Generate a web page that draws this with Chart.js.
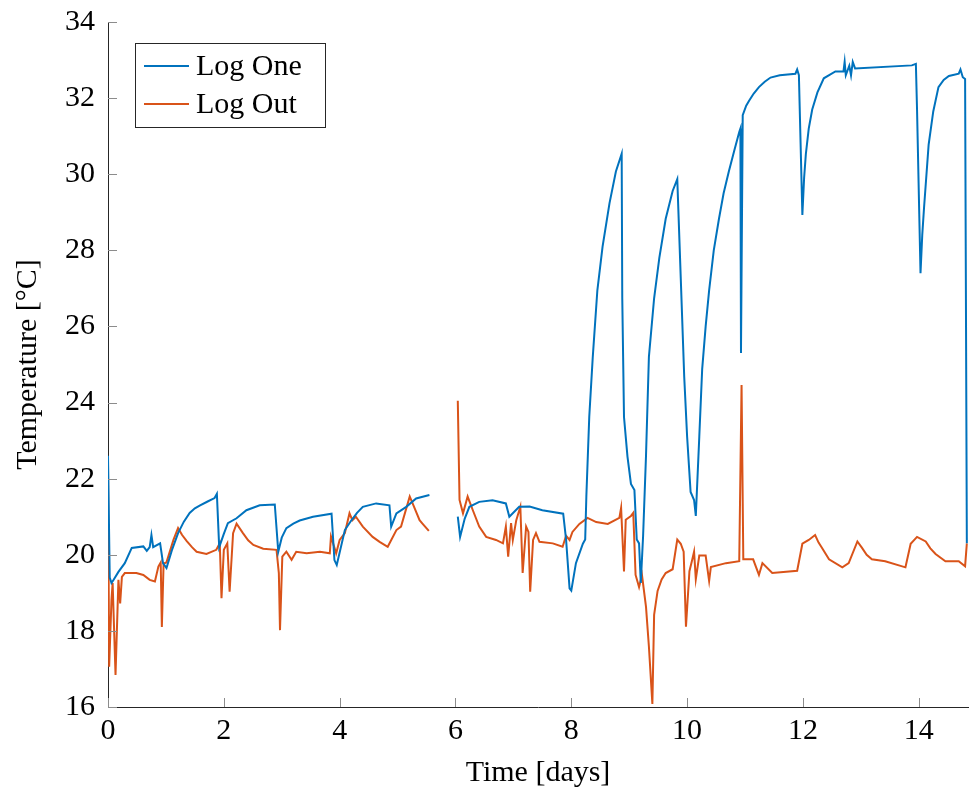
<!DOCTYPE html>
<html>
<head>
<meta charset="utf-8">
<script src="https://cdn.jsdelivr.net/npm/chart.js@4.4.1/dist/chart.umd.min.js"></script>
<style>
  html, body { margin: 0; padding: 0; background: #fff; }
  #wrap { width: 969px; height: 791px; }
</style>
</head>
<body>
<div id="wrap"><canvas id="myChart" width="969" height="791"></canvas></div>
<script>
// Log One (time in days, temperature in °C)
var timeOne = [0.0, 0.03, 0.06, 0.1, 0.18, 0.29, 0.41, 0.61, 0.67, 0.72, 0.75, 0.78, 0.9, 0.95, 1.01, 1.11, 1.21, 1.31, 1.41, 1.5, 1.59, 1.72, 1.84, 1.88, 1.92,
	2.0, 2.07, 2.22, 2.39, 2.62, 2.88, 2.94, 3.0, 3.08, 3.2, 3.31, 3.54, 3.86, 3.91, 3.95, 4.09, 4.2, 4.3, 4.4, 4.63, 4.86, 4.89, 4.98, 5.15, 5.32, 5.55,
	5.8,
	6.04, 6.08, 6.16, 6.24, 6.41, 6.64, 6.87, 6.93, 7.1, 7.28, 7.5, 7.86, 7.91, 7.97, 8.0, 8.08, 8.2, 8.24, 8.26, 8.31, 8.37, 8.45, 8.54,
	8.66, 8.77, 8.87, 8.88, 8.91, 8.97, 9.03, 9.09, 9.13, 9.17, 9.2, 9.24, 9.29, 9.34, 9.43, 9.52, 9.63, 9.75, 9.83, 9.89, 9.95,
	10.0, 10.06, 10.12, 10.15, 10.21, 10.26, 10.32, 10.38, 10.46, 10.55, 10.63, 10.72, 10.81, 10.9, 10.92, 10.93, 10.96, 11.02, 11.07, 11.15, 11.24, 11.34, 11.44, 11.6, 11.87, 11.9,
	11.93, 11.99, 12.02, 12.05, 12.1, 12.16, 12.25, 12.36, 12.56, 12.7, 12.72, 12.74, 12.8, 12.83, 12.86, 12.9, 13.88, 13.95, 13.97, 14.03, 14.06, 14.09,
	14.17, 14.25, 14.34, 14.43, 14.52, 14.69, 14.72, 14.76, 14.8, 14.83];
var tempOne = [22.6, 19.4, 19.26, 19.35, 19.55, 19.78, 20.18, 20.22, 20.1, 20.2, 20.52, 20.2, 20.3, 19.78, 19.65, 20.15, 20.57, 20.87, 21.1, 21.22, 21.3, 21.4, 21.49, 21.6, 20.2,
	20.55, 20.83, 20.96, 21.17, 21.3, 21.32, 20.08, 20.45, 20.7, 20.82, 20.9, 21.0, 21.08, 19.86, 19.73, 20.65, 20.9, 21.1, 21.26, 21.35, 21.3, 20.74, 21.09, 21.26, 21.48, 21.57,
	null,
	21.0, 20.47, 20.95, 21.26, 21.39, 21.43, 21.35, 21.0, 21.26, 21.27, 21.17, 21.08, 20.4, 19.12, 19.06, 19.78, 20.29, 20.4, 21.54, 23.62, 25.18, 26.95, 28.1,
	29.24, 30.07, 30.54, 26.74, 23.62, 22.58, 21.86, 21.7, 20.4, 20.3, 19.26, 20.5, 22.6, 25.2, 26.74, 27.8, 28.83, 29.56, 29.87, 27.27, 24.67,
	23.1, 21.65, 21.44, 21.02, 23.1, 24.88, 26.0, 26.95, 28.0, 28.83, 29.5, 30.07, 30.6, 31.11, 31.2, 25.3, 31.55, 31.8, 31.93, 32.12, 32.29, 32.43, 32.54, 32.6, 32.64, 32.75,
	32.6, 28.93, 29.9, 30.53, 31.2, 31.7, 32.15, 32.52, 32.7, 32.7, 32.95, 32.6, 32.85, 32.6, 32.95, 32.78, 32.86, 32.9, 31.7, 27.4, 28.4, 29.1,
	30.77, 31.65, 32.29, 32.48, 32.58, 32.64, 32.75, 32.55, 32.5, 20.3];

// Log Out
var timeOut = [0.0, 0.02, 0.06, 0.08, 0.13, 0.18, 0.21, 0.24, 0.29, 0.49, 0.61, 0.72, 0.81, 0.87, 0.91, 0.93, 0.96, 1.01, 1.13, 1.21, 1.28, 1.36,
	1.45, 1.53, 1.7, 1.87, 1.93, 1.96, 2.0, 2.06, 2.1, 2.16, 2.22, 2.33, 2.42, 2.51, 2.68, 2.91, 2.95, 2.97, 3.01, 3.08, 3.17, 3.25, 3.43, 3.66,
	3.83, 3.85, 3.94, 4.0, 4.09, 4.17, 4.22, 4.28, 4.4, 4.57, 4.69, 4.83, 4.98, 5.06, 5.21, 5.26, 5.38, 5.43, 5.54,
	5.8,
	6.04, 6.07, 6.13, 6.21, 6.3, 6.41, 6.53, 6.7, 6.82, 6.87, 6.91, 6.96, 6.99, 7.05, 7.12, 7.16, 7.22, 7.26, 7.29, 7.34, 7.39,
	7.45, 7.68, 7.85, 7.91, 7.97, 8.02, 8.14, 8.28, 8.43, 8.63, 8.83, 8.86, 8.91, 8.94, 9.03, 9.07, 9.11, 9.17, 9.22, 9.29, 9.34,
	9.4, 9.43, 9.49, 9.56, 9.63, 9.75, 9.83, 9.89, 9.94, 9.98, 10.04, 10.09, 10.12, 10.15, 10.21, 10.32, 10.38, 10.41, 10.67, 10.9,
	10.94, 10.97, 11.14, 11.24, 11.3, 11.47, 11.9, 11.99, 12.1, 12.21, 12.27, 12.33, 12.45, 12.68, 12.79, 12.94, 13.02, 13.1, 13.19, 13.42,
	13.77, 13.86, 13.97, 14.12, 14.2, 14.29, 14.46, 14.69, 14.8, 14.83];
var tempOut = [22.4, 17.06, 18.81, 19.26, 16.84, 19.34, 18.72, 19.42, 19.52, 19.52, 19.47, 19.34, 19.3, 19.69, 19.8, 18.1, 19.77, 19.8, 20.39, 20.7, 20.52, 20.36,
	20.2, 20.08, 20.02, 20.13, 20.3, 18.86, 20.13, 20.3, 19.03, 20.57, 20.82, 20.57, 20.38, 20.26, 20.16, 20.13, 19.52, 18.02, 19.95, 20.08, 19.87, 20.08, 20.04, 20.08,
	20.04, 20.48, 20.04, 20.39, 20.57, 21.09, 20.91, 21.0, 20.74, 20.47, 20.34, 20.21, 20.65, 20.74, 21.53, 21.35, 20.91, 20.82, 20.63,
	null,
	24.05, 21.44, 21.09, 21.53, 21.17, 20.74, 20.47, 20.39, 20.3, 20.74, 19.95, 20.83, 20.39, 20.91, 21.26, 19.52, 20.74, 20.6, 19.03, 20.39, 20.57,
	20.34, 20.3, 20.21, 20.5, 20.39, 20.6, 20.81, 20.97, 20.86, 20.81, 20.97, 21.23, 19.56, 20.92, 21.02, 21.1, 19.47, 19.15, 19.47, 18.63, 17.59,
	16.08, 18.42, 19.05, 19.35, 19.52, 19.62, 20.4, 20.29, 20.08, 18.11, 19.57, 19.88, 20.08, 19.36, 19.98, 19.98, 19.31, 19.68, 19.78, 19.83,
	24.46, 19.88, 19.88, 19.47, 19.78, 19.52, 19.58, 20.29, 20.39, 20.52, 20.32, 20.18, 19.88, 19.67, 19.78, 20.35, 20.18, 20.0, 19.88, 19.83,
	19.67, 20.29, 20.47, 20.35, 20.17, 20.02, 19.83, 19.83, 19.7, 20.3];

var xTicks = [0, 2, 4, 6, 8, 10, 12, 14];
var yTicks = [16, 18, 20, 22, 24, 26, 28, 30, 32, 34];

function toPoints(xs, ys) {
	return xs.map(function (x, i) { return { x: x, y: ys[i] }; });
}

var serif = '"Liberation Serif", "Times New Roman", serif';

// inward tick marks, like the original plot
var innerTicks = {
	id: 'innerTicks',
	afterDraw: function (chart) {
		var ctx = chart.ctx, a = chart.chartArea;
		var xs = chart.scales.x, ys = chart.scales.y;
		ctx.save();
		ctx.strokeStyle = '#8c8c8c';
		ctx.lineWidth = 1;
		ctx.beginPath();
		xTicks.forEach(function (v) {
			var px = Math.round(xs.getPixelForValue(v)) + 0.5;
			ctx.moveTo(px, a.bottom);
			ctx.lineTo(px, a.bottom - 9);
		});
		yTicks.forEach(function (v) {
			var py = Math.round(ys.getPixelForValue(v)) + 0.5;
			ctx.moveTo(a.left, py);
			ctx.lineTo(a.left + 9, py);
		});
		ctx.stroke();
		ctx.restore();
	}
};

// legend box in the top left corner of the plot
var boxLegend = {
	id: 'boxLegend',
	afterDraw: function (chart) {
		var ctx = chart.ctx, a = chart.chartArea;
		var x0 = a.left + 27, y0 = a.top + 21, w = 190, h = 84;
		ctx.save();
		ctx.fillStyle = '#fff';
		ctx.fillRect(x0, y0, w, h);
		ctx.strokeStyle = '#262626';
		ctx.lineWidth = 1;
		ctx.strokeRect(x0 + 0.5, y0 + 0.5, w, h);
		ctx.font = '30px ' + serif;
		ctx.textBaseline = 'middle';
		chart.data.datasets.forEach(function (ds, i) {
			var cy = y0 + 23 + i * 38;
			ctx.strokeStyle = ds.borderColor;
			ctx.lineWidth = 2;
			ctx.beginPath();
			ctx.moveTo(x0 + 9, cy);
			ctx.lineTo(x0 + 54, cy);
			ctx.stroke();
			ctx.fillStyle = '#000';
			ctx.fillText(ds.label, x0 + 61, cy + 1);
		});
		ctx.restore();
	}
};

var ctx = document.getElementById('myChart').getContext('2d');
var myChart = new Chart(ctx, {
	type: 'line',
	data: {
		datasets: [{
			label: 'Log One',
			data: toPoints(timeOne, tempOne),
			borderColor: '#0072BD',
			borderWidth: 2,
			pointRadius: 0,
			tension: 0,
			spanGaps: false
		}, {
			label: 'Log Out',
			data: toPoints(timeOut, tempOut),
			borderColor: '#D95319',
			borderWidth: 2,
			pointRadius: 0,
			tension: 0,
			spanGaps: false
		}]
	},
	options: {
		responsive: false,
		animation: false,
		layout: { padding: { top: 22, right: 1, left: 0, bottom: 0 } },
		plugins: {
			legend: { display: false },
			tooltip: { enabled: false }
		},
		scales: {
			x: {
				type: 'linear',
				min: 0,
				max: 14.85,
				afterBuildTicks: function (scale) {
					scale.ticks = xTicks.map(function (v) { return { value: v }; });
				},
				afterFit: function (scale) {
					scale.height = 84;
					scale.paddingLeft = 0;
					scale.paddingRight = 0;
				},
				grid: { display: false, drawTicks: false },
				border: { display: true, color: '#262626', width: 1 },
				ticks: {
					padding: 6,
					color: '#000',
					font: { family: serif, size: 30 },
					maxRotation: 0
				},
				title: {
					display: true,
					text: 'Time [days]',
					color: '#000',
					font: { family: serif, size: 30 },
					padding: { top: 0, bottom: 0 }
				}
			},
			y: {
				min: 16,
				max: 34,
				afterBuildTicks: function (scale) {
					scale.ticks = yTicks.map(function (v) { return { value: v }; });
				},
				afterFit: function (scale) {
					scale.width = 108;
					scale.paddingTop = 0;
					scale.paddingBottom = 0;
				},
				grid: { display: false, drawTicks: false },
				border: { display: true, color: '#262626', width: 1 },
				ticks: {
					padding: 13,
					color: '#000',
					font: { family: serif, size: 30 }
				},
				title: {
					display: true,
					text: 'Temperature [°C]',
					color: '#000',
					font: { family: serif, size: 30 },
					padding: { top: 10, bottom: 0 }
				}
			}
		}
	},
	plugins: [innerTicks, boxLegend]
});
</script>
</body>
</html>
